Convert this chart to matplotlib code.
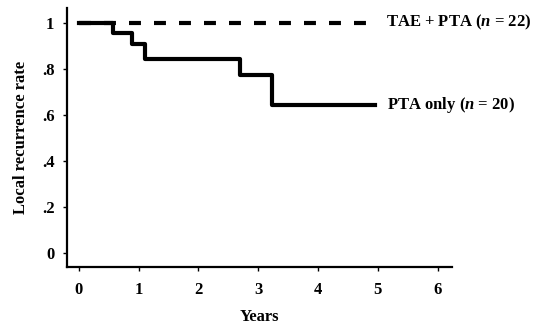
import matplotlib
matplotlib.use("Agg")
from matplotlib import pyplot as plt

# Kaplan-Meier style curves
pta_years = [0, 0.57, 0.89, 1.10, 2.69, 3.23, 4.95]
pta_rate = [1.0, 0.955, 0.906, 0.842, 0.773, 0.643, 0.643]
tae_years = [0, 4.95]
tae_rate = [1.0, 1.0]

x_ticks = [0, 1, 2, 3, 4, 5, 6]
y_ticks = [0, 0.2, 0.4, 0.6, 0.8, 1.0]
y_labels = ["0", ".2", ".4", ".6", ".8", "1"]

plt.rcParams["font.family"] = ["Liberation Serif", "DejaVu Serif"]
plt.rcParams["font.weight"] = "bold"
plt.rcParams["mathtext.fontset"] = "custom"
plt.rcParams["mathtext.it"] = "Liberation Serif:italic:bold"
plt.rcParams["mathtext.rm"] = "Liberation Serif:bold"
plt.rcParams["lines.scale_dashes"] = False

fig = plt.figure(figsize=(5.4, 3.28), dpi=100)
ax = fig.add_axes([0.124, 0.186, 0.713, 0.790])

ax.plot(tae_years, tae_rate, color="black", lw=3.0, dashes=(8.6, 9.4),
        solid_capstyle="butt", dash_capstyle="butt")
ax.step(pta_years, pta_rate, where="post", color="black", lw=3.0)

ax.text(5.13, 1.0, "TAE + PTA ($n$ = 22)", fontsize=12, fontweight="bold",
        va="center", ha="left")
ax.text(5.15, 0.643, "PTA only ($n$ = 20)", fontsize=12, fontweight="bold",
        va="center", ha="left")

ax.set_xlim(-0.2, 6.24)
ax.set_ylim(-0.06, 1.065)
ax.set_xticks(x_ticks)
ax.set_yticks(y_ticks)
ax.set_yticklabels(y_labels)

for side in ["top", "right"]:
    ax.spines[side].set_visible(False)
for side in ["left", "bottom"]:
    ax.spines[side].set_linewidth(1.6)

ax.tick_params(direction="out", length=3, width=1.0, labelsize=12, pad=6)
ax.tick_params(axis="x", pad=8)
for lab in ax.get_xticklabels() + ax.get_yticklabels():
    lab.set_fontweight("bold")

ax.set_xlabel("Years", fontsize=12, fontweight="bold", labelpad=8)
ax.set_ylabel("Local recurrence rate", fontsize=12, fontweight="bold", labelpad=9)

fig.savefig("out.png", dpi=100)
